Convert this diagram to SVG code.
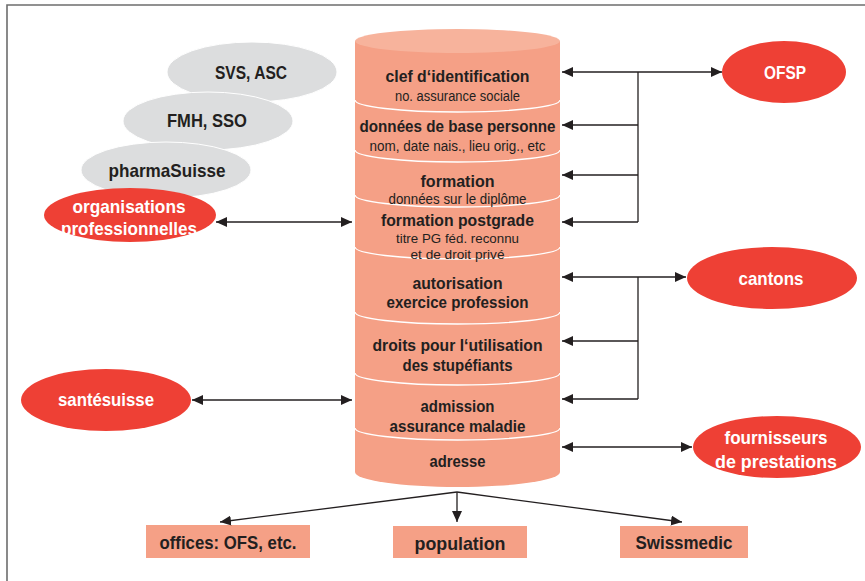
<svg xmlns="http://www.w3.org/2000/svg" width="865" height="581" viewBox="0 0 865 581">
<style>
text{font-family:"Liberation Sans",Arial,sans-serif;text-anchor:middle;}
.b{font-weight:bold;font-size:16.5px;fill:#231f20;}
.r{font-size:14px;fill:#231f20;}
.rs{font-size:13px;fill:#231f20;}
.w{font-weight:bold;font-size:18.5px;fill:#ffffff;}
.k{font-weight:bold;font-size:18.5px;fill:#231f20;}
.red{fill:#ee4035;}
.grey{fill:#dcddde;stroke:#ffffff;stroke-width:1;}
.sal{fill:#f5a086;}
.div{fill:none;stroke:#ffffff;stroke-width:1.3;}
.c{fill:none;stroke:#231f20;stroke-width:1.3;}
.a{marker-end:url(#ah);}
.aa{marker-start:url(#ah);marker-end:url(#ah);}
</style>
<defs>
<marker id="ah" markerUnits="userSpaceOnUse" markerWidth="11" markerHeight="10" refX="11" refY="5" orient="auto-start-reverse">
<path d="M0,0 L11,5 L0,10 Z" fill="#231f20"/>
</marker>
</defs>
<rect width="865" height="581" fill="#ffffff"/>
<g id="frame">
<path d="M7,581 V5 H865" fill="none" stroke="#6d6d6d" stroke-width="1.6"/>
</g>

<g id="cylinder">
<path class="sal" d="M355,41 V472 A102.5,15 0 0 0 560,472 V41 Z"/>
<ellipse cx="457.5" cy="41" rx="102.5" ry="12" fill="#f7b39c"/>
<path class="div" d="M355,100 A102.5,12 0 0 0 560,100"/>
<path class="div" d="M355,150 A102.5,12 0 0 0 560,150"/>
<path class="div" d="M355,195 A102.5,12 0 0 0 560,195"/>
<path class="div" d="M355,247 A102.5,12 0 0 0 560,247"/>
<path class="div" d="M355,312 A102.5,12 0 0 0 560,312"/>
<path class="div" d="M355,373 A102.5,12 0 0 0 560,373"/>
<path class="div" d="M355,428 A102.5,12 0 0 0 560,428"/>
<text class="b" x="457.5" y="82" textLength="144" lengthAdjust="spacingAndGlyphs">clef d‘identification</text>
<text class="r" x="457.5" y="101" textLength="125" lengthAdjust="spacingAndGlyphs">no. assurance sociale</text>
<text class="b" x="457.5" y="132" textLength="196" lengthAdjust="spacingAndGlyphs">données de base personne</text>
<text class="r" x="457.5" y="151" textLength="176" lengthAdjust="spacingAndGlyphs">nom, date nais., lieu orig., etc</text>
<text class="b" x="457.5" y="187" textLength="74" lengthAdjust="spacingAndGlyphs">formation</text>
<text class="r" x="457.5" y="204" textLength="138" lengthAdjust="spacingAndGlyphs">données sur le diplôme</text>
<text class="b" x="457.5" y="226" textLength="153" lengthAdjust="spacingAndGlyphs">formation postgrade</text>
<text class="rs" x="457.5" y="243" textLength="123" lengthAdjust="spacingAndGlyphs">titre PG féd. reconnu</text>
<text class="rs" x="457.5" y="259" textLength="94" lengthAdjust="spacingAndGlyphs">et de droit privé</text>
<text class="b" x="457.5" y="289" textLength="90" lengthAdjust="spacingAndGlyphs">autorisation</text>
<text class="b" x="457.5" y="308" textLength="142" lengthAdjust="spacingAndGlyphs">exercice profession</text>
<text class="b" x="457.5" y="351" textLength="170" lengthAdjust="spacingAndGlyphs">droits pour l‘utilisation</text>
<text class="b" x="457.5" y="371" textLength="110" lengthAdjust="spacingAndGlyphs">des stupéfiants</text>
<text class="b" x="457.5" y="412" textLength="74" lengthAdjust="spacingAndGlyphs">admission</text>
<text class="b" x="457.5" y="432" textLength="136" lengthAdjust="spacingAndGlyphs">assurance maladie</text>
<text class="b" x="457.5" y="467" textLength="56" lengthAdjust="spacingAndGlyphs">adresse</text>
</g>

<g id="svs-asc">
<ellipse class="grey" cx="252" cy="72" rx="85" ry="30"/>
<text class="k" x="251" y="79" textLength="72" lengthAdjust="spacingAndGlyphs">SVS, ASC</text>
</g>
<g id="fmh-sso">
<ellipse class="grey" cx="208" cy="121" rx="85" ry="29"/>
<text class="k" x="207" y="127" textLength="80" lengthAdjust="spacingAndGlyphs">FMH, SSO</text>
</g>
<g id="pharmasuisse">
<ellipse class="grey" cx="166" cy="170" rx="85" ry="28"/>
<text class="k" x="167" y="177" textLength="117" lengthAdjust="spacingAndGlyphs">pharmaSuisse</text>
</g>
<g id="organisations">
<ellipse class="red" cx="130" cy="215" rx="86" ry="27"/>
<text class="w" x="129" y="213" textLength="113" lengthAdjust="spacingAndGlyphs">organisations</text>
<text class="w" x="129" y="235" textLength="136" lengthAdjust="spacingAndGlyphs">professionnelles</text>
</g>
<g id="santesuisse">
<ellipse class="red" cx="106" cy="400" rx="85" ry="31"/>
<text class="w" x="106" y="406" textLength="96" lengthAdjust="spacingAndGlyphs">santésuisse</text>
</g>
<g id="ofsp">
<ellipse class="red" cx="784" cy="72" rx="62" ry="31"/>
<text class="w" x="785" y="79" textLength="42" lengthAdjust="spacingAndGlyphs">OFSP</text>
</g>
<g id="cantons">
<ellipse class="red" cx="772" cy="278" rx="85" ry="31"/>
<text class="w" x="771" y="285" textLength="65" lengthAdjust="spacingAndGlyphs">cantons</text>
</g>
<g id="fournisseurs">
<ellipse class="red" cx="777" cy="447" rx="84" ry="31"/>
<text class="w" x="776" y="444" textLength="103" lengthAdjust="spacingAndGlyphs">fournisseurs</text>
<text class="w" x="776" y="468" textLength="122" lengthAdjust="spacingAndGlyphs">de prestations</text>
</g>
<g id="offices">
<rect class="sal" x="146" y="525" width="164" height="33"/>
<text class="k" x="228" y="549" textLength="137" lengthAdjust="spacingAndGlyphs">offices: OFS, etc.</text>
</g>
<g id="population">
<rect class="sal" x="393" y="526" width="134" height="32"/>
<text class="k" x="460" y="550" textLength="91" lengthAdjust="spacingAndGlyphs">population</text>
</g>
<g id="swissmedic">
<rect class="sal" x="620" y="526" width="128" height="32"/>
<text class="k" x="684" y="549" textLength="97" lengthAdjust="spacingAndGlyphs">Swissmedic</text>
</g>

<g id="connectors">
<path class="c aa" d="M562,72 H722"/>
<path class="c" d="M638,72 V222"/>
<path class="c a" d="M638,125 H562"/>
<path class="c a" d="M638,175 H562"/>
<path class="c a" d="M638,222 H562"/>
<path class="c aa" d="M562,277 H686"/>
<path class="c" d="M638,277 V399"/>
<path class="c a" d="M638,341 H562"/>
<path class="c a" d="M638,399 H562"/>
<path class="c aa" d="M562,447 H692"/>
<path class="c aa" d="M216,222 H352"/>
<path class="c aa" d="M192,400 H352"/>
<path class="c a" d="M457,492 L220,522"/>
<path class="c a" d="M457,492 V522"/>
<path class="c a" d="M457,492 L682,522"/>
</g>
</svg>
